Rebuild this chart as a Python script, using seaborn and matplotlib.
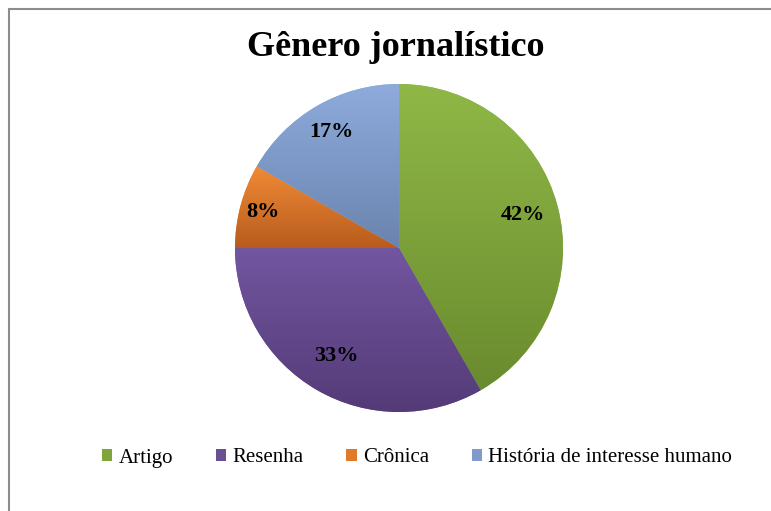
import numpy as np
import matplotlib
matplotlib.use("Agg")
import matplotlib.pyplot as plt
from matplotlib.colors import LinearSegmentedColormap
from matplotlib.patches import Patch
from matplotlib.lines import Line2D
import seaborn as sns

# ---- data ----
categories = ["Artigo", "Resenha", "Crônica", "História de interesse humano"]
shares = [41.7, 33.3, 8.3, 16.7]
title = "Gênero jornalístico"

# ---- style ----
top_colors = ["#8FB847", "#7256A0", "#F08A36", "#8EABDC"]
bottom_colors = ["#6A8B2E", "#543B77", "#B85C1D", "#6A84AE"]
legend_colors = ["#7FA53C", "#6A4F94", "#E07A2B", "#7F9ACB"]
label_dist = [0.78, 0.76, 0.86, 0.82]

sns.set_theme(style="white")
plt.rcParams["font.family"] = ["Liberation Serif", "DejaVu Serif"]
plt.rcParams["text.color"] = "black"

fig = plt.figure(figsize=(7.71, 5.11), dpi=100)
W, H = 771, 511
cx, cy, r = 399, 248, 164
ax = fig.add_axes([(cx - r) / W, (H - cy - r) / H, 2 * r / W, 2 * r / H])

wedges, _ = ax.pie(shares, startangle=90, counterclock=False,
                   colors=top_colors, wedgeprops=dict(linewidth=0))
ax.set_aspect("equal")
ax.axis("off")

grad = np.linspace(1, 0, 256).reshape(-1, 1)
total = sum(shares)
cum = 0
for i, w in enumerate(wedges):
    ext = w.get_path().get_extents()
    cmap = LinearSegmentedColormap.from_list("g%d" % i, [bottom_colors[i], top_colors[i]])
    im = ax.imshow(grad, cmap=cmap, extent=(ext.x0, ext.x1, ext.y0, ext.y1),
                   aspect="auto", origin="upper", zorder=2, interpolation="bilinear")
    im.set_clip_path(w)
    mid = 90 - (cum + shares[i] / 2) / total * 360
    cum += shares[i]
    a = np.deg2rad(mid)
    ax.text(label_dist[i] * np.cos(a), label_dist[i] * np.sin(a),
            "%.0f%%" % (shares[i] / total * 100), ha="center", va="center",
            fontsize=16, fontweight="bold", color="black", zorder=5)
ax.set_xlim(-1, 1)
ax.set_ylim(-1, 1)

fig.text(396 / W, 1 - 48 / H, title, ha="center", va="center",
         fontsize=26, fontweight="bold", color="black")

handles = [Patch(facecolor=c, edgecolor="none") for c in legend_colors]
leg = fig.legend(handles, categories, loc="center", bbox_to_anchor=(417 / W, 1 - 458 / H),
                 ncol=4, frameon=False, fontsize=15, handlelength=0.5, handleheight=0.5,
                 handletextpad=0.3, columnspacing=2.05)
for t in leg.get_texts():
    t.set_color("black")

# chart frame (left and top edges visible)
fig.add_artist(Line2D([9 / W, 9 / W], [0, 1 - 9 / H], color="#8C8C8C", lw=1.5))
fig.add_artist(Line2D([9 / W, 1], [1 - 9 / H, 1 - 9 / H], color="#8C8C8C", lw=1.5))

fig.savefig("out.png", dpi=100, facecolor="white")
